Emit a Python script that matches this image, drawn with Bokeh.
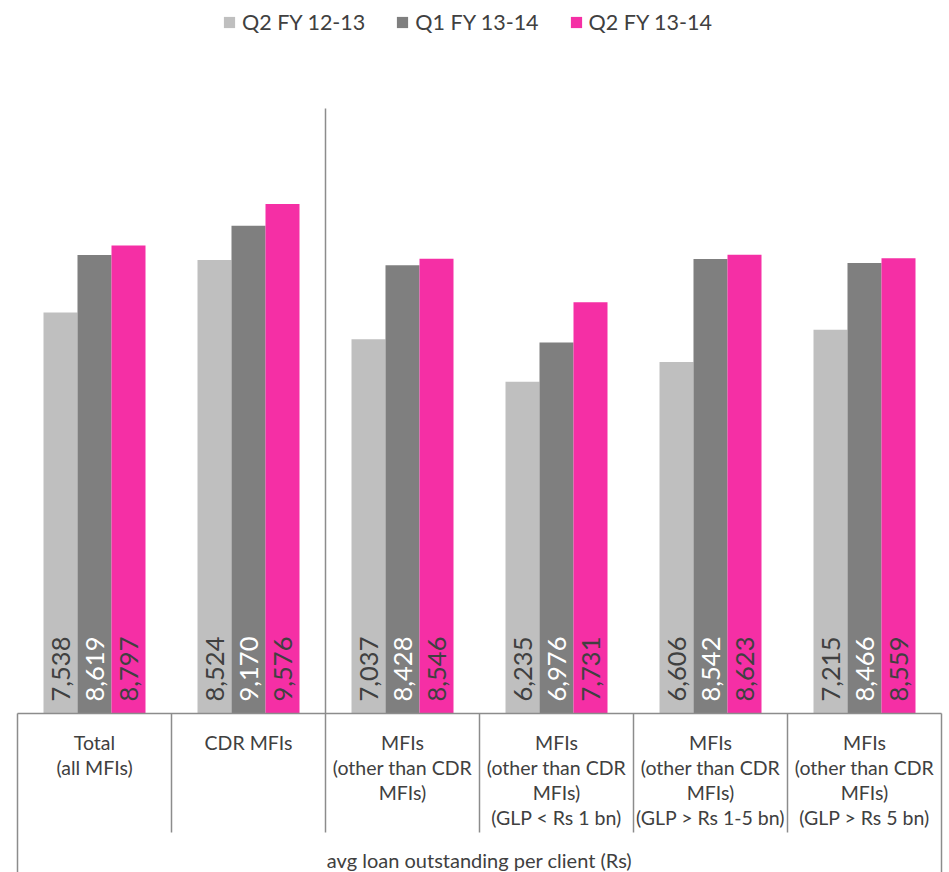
import numpy as np
from bokeh.plotting import figure
from bokeh.models import Range1d, ColumnDataSource, Legend, LegendItem
from bokeh.core.properties import value
from bokeh.embed import file_html
from bokeh.resources import INLINE

# ---------------- data ----------------
categories = [
    "Total\n(all MFIs)",
    "CDR MFIs",
    "MFIs\n(other than CDR\nMFIs)",
    "MFIs\n(other than CDR\nMFIs)\n(GLP < Rs 1 bn)",
    "MFIs\n(other than CDR\nMFIs)\n(GLP > Rs 1-5 bn)",
    "MFIs\n(other than CDR\nMFIs)\n(GLP > Rs 5 bn)",
]
series_names = ["Q2 FY 12-13", "Q1 FY 13-14", "Q2 FY 13-14"]
q2_fy1213 = [7538, 8524, 7037, 6235, 6606, 7215]
q1_fy1314 = [8619, 9170, 8428, 6976, 8542, 8466]
q2_fy1314 = [8797, 9576, 8546, 7731, 8623, 8559]
axis_title = "avg loan outstanding per client (Rs)"
separator_value = 11370  # divider drawn after the "CDR MFIs" group

series_values = [q2_fy1213, q1_fy1314, q2_fy1314]
series_colors = ["#BFBFBF", "#7F7F7F", "#F52FA5"]
label_colors = ["#404040", "#FFFFFF", "#404040"]

# ---------------- layout ----------------
W, H = 949, 872
left_px = 17          # left edge of the first category cell
cat_px = 154          # width of one category cell
baseline_px = 713     # y pixel of value 0
ppu = 0.0532          # pixels per unit of value
inner_bottom_px = 832 # bottom of inner table lines

FONT = "Lato"
TXT = "#404040"
LINE = "#8C8C8C"

n = len(categories)
x_range = Range1d(-left_px / cat_px, (W - left_px) / cat_px)
y_range = Range1d(-(H - baseline_px) / ppu, baseline_px / ppu)

p = figure(width=W, height=H, x_range=x_range, y_range=y_range,
           x_axis_type=None, y_axis_type=None, toolbar_location=None,
           output_backend="svg", min_border=0, outline_line_color=None)
p.grid.visible = False
p.background_fill_color = "white"
p.border_fill_color = "white"

bar_w = 34 / cat_px
offsets = [-bar_w, 0.0, bar_w]
centers = np.arange(n) + 0.5

renderers = []
for vals, col, lcol, off in zip(series_values, series_colors, label_colors, offsets):
    src = ColumnDataSource(dict(
        x=centers + off,
        top=vals,
        label=[f"{v:,}" for v in vals],
    ))
    r = p.vbar(x="x", top="top", bottom=0, width=bar_w, source=src,
               fill_color=col, line_color=None)
    renderers.append(r)
    p.text(x="x", y=0, text="label", source=src, angle=np.pi / 2,
           text_align="left", text_baseline="middle", y_offset=-12,
           text_font=value(FONT), text_font_size="25.5px", text_color=lcol)

# table-like category axis
p.segment(x0=[0], y0=[0], x1=[n], y1=[0], line_color=LINE, line_width=1.5)
inner_bottom = -(inner_bottom_px - baseline_px) / ppu
p.segment(x0=list(range(1, n)), y0=[0] * (n - 1), x1=list(range(1, n)),
          y1=[inner_bottom] * (n - 1), line_color=LINE, line_width=1.5)
p.segment(x0=[0, n], y0=[0, 0], x1=[0, n], y1=[y_range.start] * 2,
          line_color=LINE, line_width=1.5)
# group divider
p.segment(x0=[2], y0=[0], x1=[2], y1=[separator_value],
          line_color=LINE, line_width=1.5)

# category labels
p.text(x=list(centers), y=[0] * n, text=categories, text_align="center",
       text_baseline="top", y_offset=17, text_line_height=1.09,
       text_font=value(FONT), text_font_size="19.5px", text_color=TXT)
# axis title
p.text(x=[n / 2], y=[0], text=[axis_title], text_align="center",
       text_baseline="middle", y_offset=146,
       text_font=value(FONT), text_font_size="20px", text_color=TXT)

legend = Legend(
    items=[LegendItem(label=nm, renderers=[r]) for nm, r in zip(series_names, renderers)],
    orientation="horizontal", location=(222, 837),
    glyph_width=14, glyph_height=14, label_standoff=6, spacing=30,
    padding=0, margin=0, border_line_color=None, background_fill_alpha=0,
    label_text_font=FONT, label_text_font_size="21.5px", label_text_color=TXT,
)
p.add_layout(legend)

open("out.html", "w").write(file_html(p, INLINE))
